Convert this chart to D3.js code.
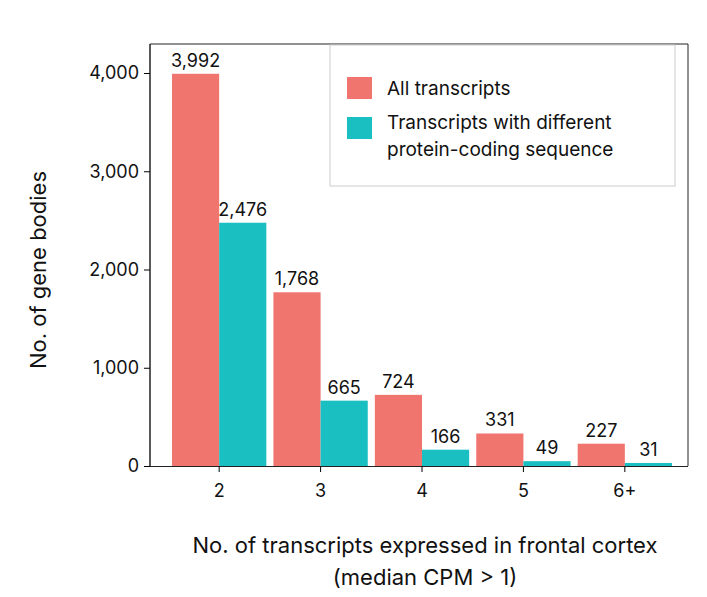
<!DOCTYPE html>
<html><head><meta charset="utf-8">
<script src="https://cdn.jsdelivr.net/npm/d3@7"></script>
<style>body{margin:0;background:#fff;overflow:hidden}text{font-family:Inter,"Noto Sans",sans-serif;fill:#111}</style>
</head><body><div id="chart"></div>
<script>
const categories = ["2", "3", "4", "5", "6+"];
const allTranscripts = [3992, 1768, 724, 331, 227];
const diffProtein = [2476, 665, 166, 49, 31];
const yTicks = [0, 1000, 2000, 3000, 4000];
const seriesNames = ["All transcripts", "Transcripts with different\nprotein-coding sequence"];
const colors = ["#F0756E", "#1ABFC2"];

const W = 707, H = 597;
const m = {left: 150, right: 688, top: 44, bottom: 466};

const svg = d3.select("#chart").append("svg").attr("width", W).attr("height", H);

const x = d3.scaleBand().domain(categories).range([172, 672]).paddingInner(0.07).paddingOuter(0);
const y = d3.scaleLinear().domain([0, 4000]).range([m.bottom, 73]);
const sub = d3.scaleBand().domain([0, 1]).range([0, x.bandwidth()]);

// frame
svg.append("path")
  .attr("d", `M${m.left},${m.bottom}V${m.top}H${m.right}V${m.bottom}`)
  .attr("fill", "none").attr("stroke", "#222").attr("stroke-width", 1);

const yAxis = svg.append("g").attr("transform", `translate(${m.left},0)`)
  .call(d3.axisLeft(y).tickValues(yTicks).tickFormat(d3.format(",")).tickSize(6));
yAxis.selectAll("text").style("font-size", "18px").attr("dx", "-2");
yAxis.select(".domain").remove();
svg.append("line").attr("x1", m.left).attr("x2", m.left).attr("y1", m.top).attr("y2", m.bottom).attr("stroke", "#222");

const xAxis = svg.append("g").attr("transform", `translate(0,${m.bottom})`)
  .call(d3.axisBottom(x).tickSize(6).tickPadding(12));
xAxis.selectAll("text").style("font-size", "18px");
xAxis.select(".domain").attr("d", `M${m.left},0.5H${m.right}`).attr("stroke", "#222");

[allTranscripts, diffProtein].forEach((vals, s) => {
  const g = svg.append("g");
  g.selectAll("rect").data(vals).join("rect")
    .attr("x", (d, i) => x(categories[i]) + sub(s))
    .attr("y", d => y(d))
    .attr("width", sub.bandwidth())
    .attr("height", d => y(0) - y(d))
    .attr("fill", colors[s]);
  g.selectAll("text").data(vals).join("text")
    .attr("x", (d, i) => x(categories[i]) + sub(s) + sub.bandwidth() / 2)
    .attr("y", d => y(d) - 7)
    .attr("text-anchor", "middle").style("font-size", "18px")
    .text(d => d3.format(",")(d));
});

// legend
const lg = svg.append("g");
lg.append("rect").attr("x", 330).attr("y", 45).attr("width", 345).attr("height", 141)
  .attr("fill", "#fff").attr("stroke", "#ccc");
seriesNames.forEach((n, i) => {
  const yy = i === 0 ? 77 : 117;
  lg.append("rect").attr("x", 347).attr("y", yy).attr("width", 25).attr("height", 22).attr("fill", colors[i]);
  const t = lg.append("text").attr("x", 387).attr("y", yy + 18).style("font-size", "19px");
  n.split("\n").forEach((line, k) => t.append("tspan").attr("x", 387).attr("dy", k ? 27 : (i ? -6 : 0)).text(line));
});

svg.append("text").attr("transform", "translate(46,270) rotate(-90)")
  .attr("text-anchor", "middle").style("font-size", "22px").text("No. of gene bodies");
svg.append("text").attr("x", 425).attr("y", 553).attr("text-anchor", "middle")
  .style("font-size", "22px").text("No. of transcripts expressed in frontal cortex");
svg.append("text").attr("x", 425).attr("y", 585).attr("text-anchor", "middle")
  .style("font-size", "22px").text("(median CPM > 1)");
</script></body></html>
